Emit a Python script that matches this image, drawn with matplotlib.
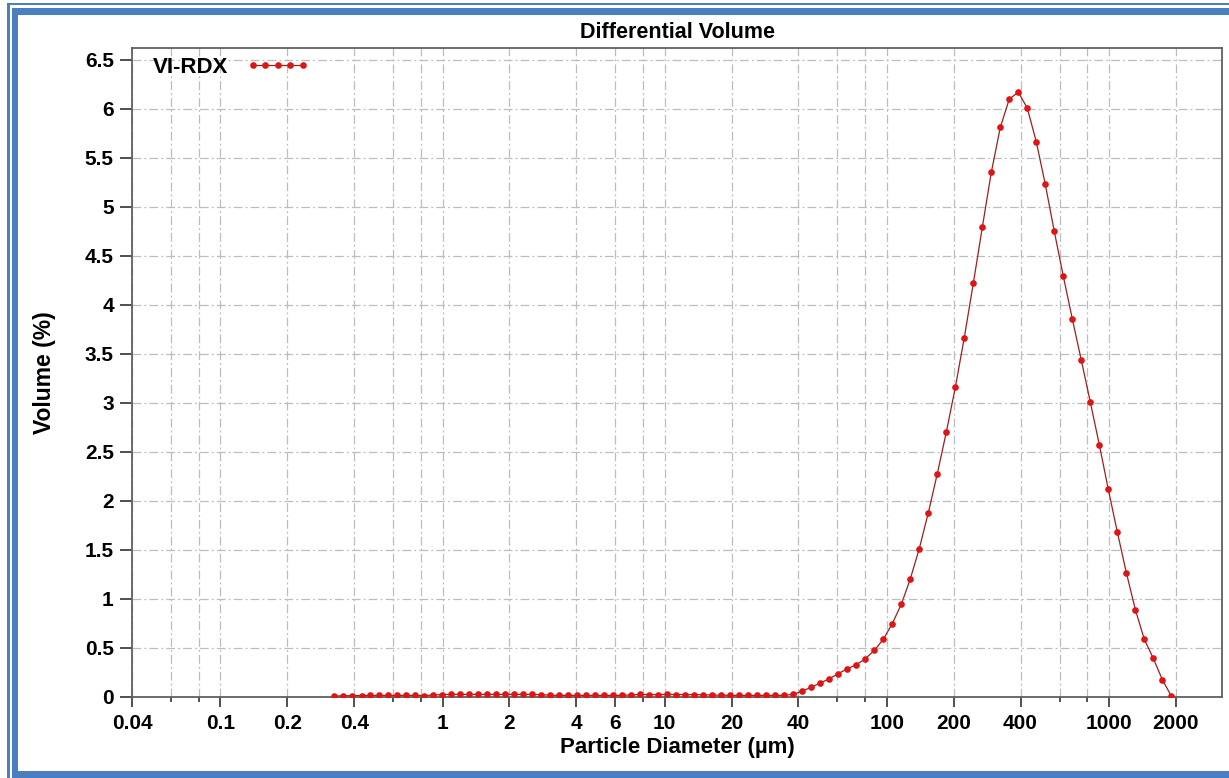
import matplotlib
matplotlib.use("Agg")
import matplotlib.pyplot as plt
from matplotlib.patches import Rectangle
from matplotlib.ticker import FixedLocator, FixedFormatter, NullFormatter

# --- data -------------------------------------------------------------
diameter_um = [
    0.326, 0.358, 0.393, 0.432, 0.474, 0.520, 0.571, 0.626, 0.688, 0.755,
    0.829, 0.910, 0.999, 1.097, 1.204, 1.322, 1.451, 1.593, 1.749, 1.920,
    2.107, 2.313, 2.539, 2.787, 3.059, 3.358, 3.687, 4.047, 4.444, 4.878,
    5.355, 5.878, 6.453, 7.083, 7.776, 8.536, 9.371, 10.29, 11.29, 12.40,
    13.61, 14.94, 16.40, 18.00, 19.76, 21.70, 23.81, 26.14, 28.70, 31.51,
    34.59, 37.97, 41.68, 45.75, 50.23, 55.14, 60.52, 66.44, 72.94, 80.07,
    87.89, 96.49, 105.9, 116.3, 127.6, 140.1, 153.8, 168.8, 185.3, 203.5,
    223.4, 245.2, 269.2, 295.5, 324.4, 356.1, 390.9, 429.2, 471.1, 517.2,
    567.8, 623.3, 684.2, 751.1, 824.5, 905.1, 993.6, 1091, 1198, 1315,
    1443, 1584, 1739, 1909,
]
volume_pct = [
    0.010, 0.012, 0.014, 0.015, 0.016, 0.016, 0.016, 0.016, 0.016, 0.016,
    0.015, 0.020, 0.025, 0.027, 0.027, 0.027, 0.027, 0.027, 0.027, 0.027,
    0.027, 0.027, 0.026, 0.024, 0.018, 0.016, 0.017, 0.016, 0.016, 0.016,
    0.016, 0.016, 0.017, 0.022, 0.026, 0.025, 0.025, 0.026, 0.025, 0.025,
    0.024, 0.023, 0.020, 0.018, 0.017, 0.016, 0.016, 0.016, 0.016, 0.016,
    0.018, 0.026, 0.060, 0.100, 0.143, 0.186, 0.239, 0.288, 0.330, 0.390,
    0.475, 0.589, 0.749, 0.946, 1.204, 1.514, 1.878, 2.276, 2.700, 3.157,
    3.667, 4.218, 4.790, 5.351, 5.810, 6.099, 6.170, 6.007, 5.663, 5.229,
    4.749, 4.293, 3.858, 3.436, 3.010, 2.575, 2.119, 1.684, 1.269, 0.892,
    0.589, 0.395, 0.178, 0.010,
]
series_name = "VI-RDX"

x_major_ticks = [0.04, 0.1, 0.2, 0.4, 1, 2, 4, 6, 10, 20, 40, 100, 200, 400, 1000, 2000]
x_major_labels = ["0.04", "0.1", "0.2", "0.4", "1", "2", "4", "6", "10", "20", "40",
                  "100", "200", "400", "1000", "2000"]
x_minor_ticks = [0.06, 0.08, 0.6, 0.8, 8, 60, 80, 600, 800]
y_ticks = [0, 0.5, 1, 1.5, 2, 2.5, 3, 3.5, 4, 4.5, 5, 5.5, 6, 6.5]
y_labels = ["0", "0.5", "1", "1.5", "2", "2.5", "3", "3.5", "4", "4.5", "5", "5.5", "6", "6.5"]

# --- style ------------------------------------------------------------
plt.rcParams["font.family"] = ["Liberation Sans", "DejaVu Sans"]
plt.rcParams["font.weight"] = "bold"

W, H = 1229, 778
fig = plt.figure(figsize=(W / 100, H / 100), dpi=100, facecolor="white")

# axes box in pixel terms: left 132, right 1222, top 48, bottom 697
ax = fig.add_axes([132 / W, 1 - 697 / H, (1222 - 132) / W, (697 - 48) / H])

LINE_COLOR = "#9a1f1f"
MARKER_COLOR = "#dd1515"
GRID_COLOR = "#bdbdbd"
SPINE_COLOR = "#606060"
BLUE = "#4a7ebf"

ax.plot(diameter_um, volume_pct, color=LINE_COLOR, lw=0.9,
        marker="o", ms=4.8, mfc=MARKER_COLOR, mec=MARKER_COLOR, mew=0,
        label=series_name, zorder=3)

ax.set_xscale("log")
ax.set_xlim(0.04, 3230)
ax.set_ylim(0, 6.62)

ax.xaxis.set_major_locator(FixedLocator(x_major_ticks))
ax.xaxis.set_major_formatter(FixedFormatter(x_major_labels))
ax.xaxis.set_minor_locator(FixedLocator(x_minor_ticks))
ax.xaxis.set_minor_formatter(NullFormatter())
ax.yaxis.set_major_locator(FixedLocator(y_ticks))
ax.yaxis.set_major_formatter(FixedFormatter(y_labels))

ax.tick_params(axis="x", which="major", length=7.2, width=1.1, color="#202020",
               labelsize=15, pad=5)
ax.tick_params(axis="x", which="minor", length=3.6, width=1.1, color="#202020")
ax.tick_params(axis="y", which="major", length=8.6, width=1.1, color="#202020",
               labelsize=15, pad=4.5)

grid_style = dict(color=GRID_COLOR, lw=0.9, linestyle=(0, (7, 2.5, 1.5, 2.5)))
ax.grid(True, axis="x", which="both", **grid_style)
ax.grid(True, axis="y", which="major", **grid_style)
ax.set_axisbelow(True)

for sp in ax.spines.values():
    sp.set_color(SPINE_COLOR)
    sp.set_linewidth(1.3)

ax.set_title("Differential Volume", fontsize=15.5, fontweight="bold", pad=7.5)
ax.set_xlabel("Particle Diameter (\u00b5m)", fontsize=16, fontweight="bold", labelpad=3)
ax.set_ylabel("Volume (%)", fontsize=16.5, fontweight="bold", labelpad=21)

leg = ax.legend(loc="upper left", bbox_to_anchor=(0.011, 1.0), frameon=False,
                markerfirst=False, numpoints=5, handlelength=2.85,
                handletextpad=0.8, borderaxespad=0,
                prop={"size": 16, "weight": "bold"})

# --- blue page frame ----------------------------------------------------
def band(x0, y0, x1, y1):
    fig.add_artist(Rectangle((x0 / W, 1 - y1 / H), (x1 - x0) / W, (y1 - y0) / H,
                             transform=fig.transFigure, facecolor=BLUE,
                             edgecolor="none", zorder=10))

# thin outer rule
band(7, 3, W, 5.3)
band(7, 3, 9.5, H)
# thick inner band
band(11.5, 8, W, 15)
band(11.5, 8, 18.3, H)
band(11.5, 771, W, H)

fig.savefig("out.png", dpi=100, facecolor="white")
